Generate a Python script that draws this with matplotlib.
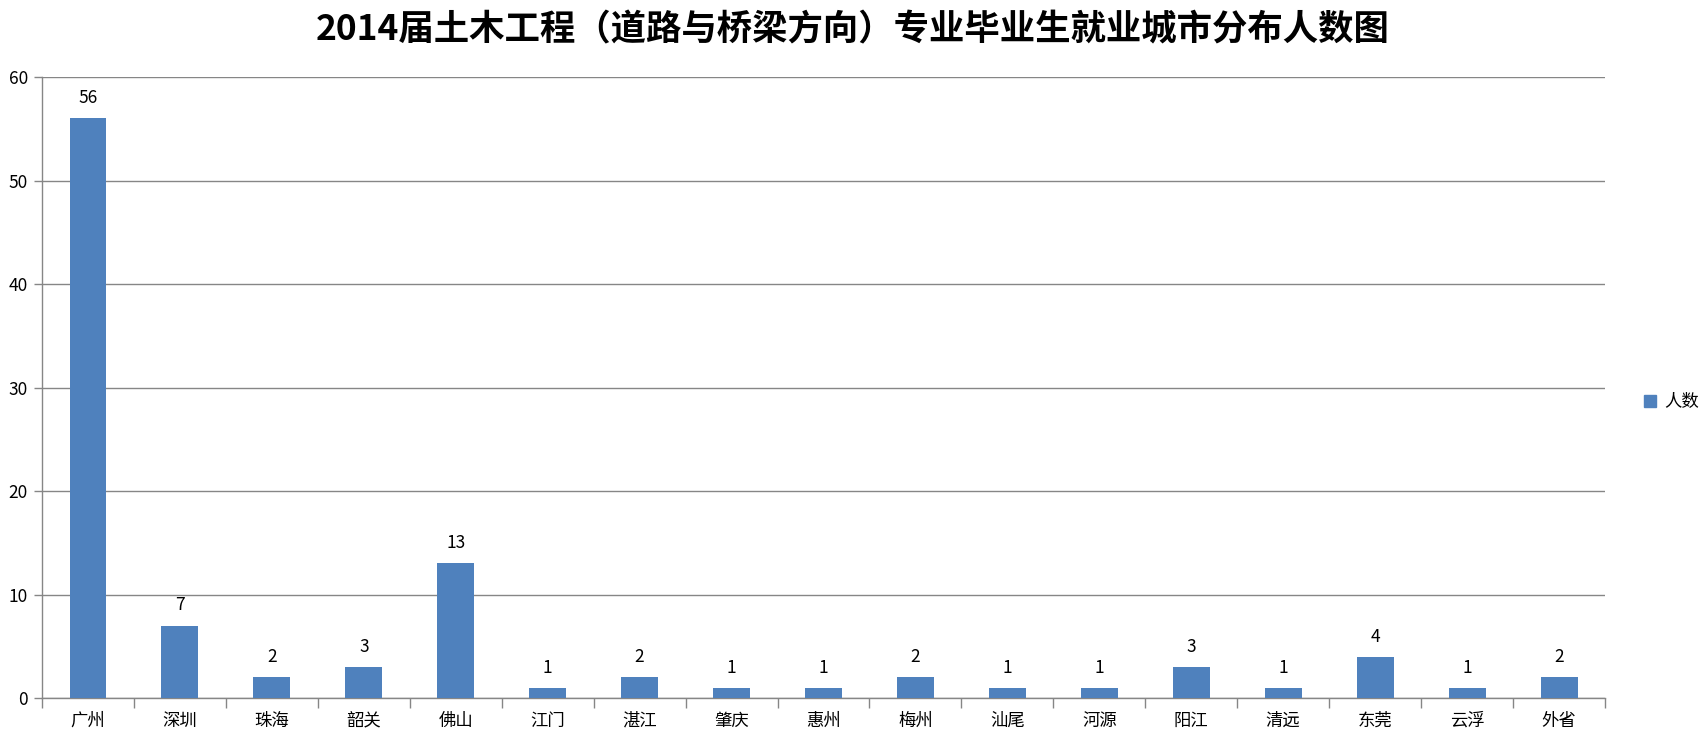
import matplotlib
matplotlib.use("Agg")
import matplotlib.pyplot as plt
from matplotlib.patches import Patch

plt.rcParams['font.family'] = ['Noto Sans CJK SC', 'DejaVu Sans']

cities = ["广州", "深圳", "珠海", "韶关", "佛山", "江门", "湛江", "肇庆", "惠州",
          "梅州", "汕尾", "河源", "阳江", "清远", "东莞", "云浮", "外省"]
counts = [56, 7, 2, 3, 13, 1, 2, 1, 1, 2, 1, 1, 3, 1, 4, 1, 2]
yticks = [0, 10, 20, 30, 40, 50, 60]
title = "2014届土木工程（道路与桥梁方向）专业毕业生就业城市分布人数图"
series_name = "人数"

bar_color = "#4F81BD"
grid_color = "#868686"

fig = plt.figure(figsize=(17.05, 7.44), dpi=100)
ax = fig.add_axes([0.0246, 0.0618, 0.9168, 0.8347])

x = list(range(len(cities)))
ax.bar(x, counts, width=0.40, color=bar_color, zorder=3)

ax.set_xlim(-0.5, len(cities) - 0.5)
ax.set_ylim(0, 60)
ax.set_yticks(yticks)
ax.set_yticklabels([str(v) for v in yticks], fontsize=12.5)
ax.yaxis.grid(True, color=grid_color, linewidth=1.0, zorder=0)

ax.set_xticks(x)
ax.set_xticklabels(cities, fontsize=12.5)
ax.set_xticks([i - 0.5 for i in range(len(cities) + 1)], minor=True)
ax.tick_params(axis='x', which='major', length=0, pad=10)
ax.tick_params(axis='x', which='minor', length=7, color=grid_color, width=1)
ax.tick_params(axis='y', which='major', length=6, color=grid_color, width=1, pad=4)

for side in ("top", "right"):
    ax.spines[side].set_visible(False)
for side in ("left", "bottom"):
    ax.spines[side].set_color(grid_color)
    ax.spines[side].set_linewidth(1.0)

for xi, v in zip(x, counts):
    ax.annotate(str(v), (xi, v), xytext=(0, 8), textcoords="offset points",
                ha="center", va="bottom", fontsize=12.5)

fig.text(0.5, 0.96, title, ha="center", va="center", fontsize=25.5, fontweight="bold")

fig.legend(handles=[Patch(color=bar_color, label=series_name)],
           loc="center left", bbox_to_anchor=(0.955, 0.46), frameon=False,
           fontsize=12.5, handlelength=0.7, handleheight=0.7, handletextpad=0.5)

fig.savefig("out.png", dpi=100)
